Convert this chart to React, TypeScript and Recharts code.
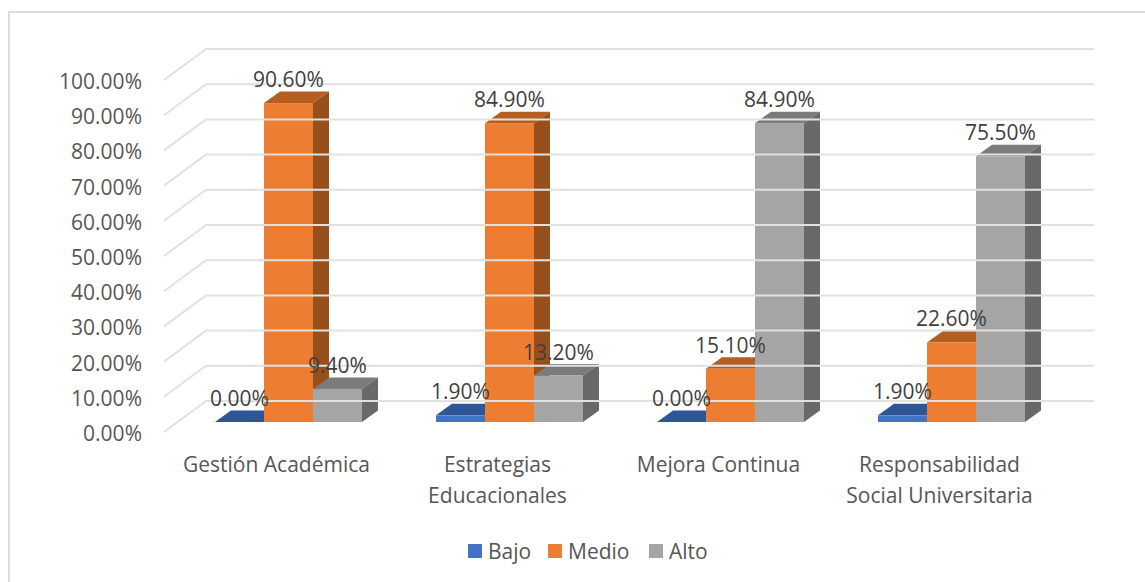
import { BarChart, Bar, XAxis, YAxis, ReferenceLine, Legend } from "recharts";

const categories = [
  ["Gestión Académica"],
  ["Estrategias", "Educacionales"],
  ["Mejora Continua"],
  ["Responsabilidad", "Social Universitaria"],
];
const bajo = [0, 1.9, 0, 1.9];
const medio = [90.6, 84.9, 15.1, 22.6];
const alto = [9.4, 13.2, 84.9, 75.5];
const yTicks = [0, 10, 20, 30, 40, 50, 60, 70, 80, 90, 100];

const FONT = '"Open Sans", sans-serif';
const AXIS_TEXT = "#565656";
const LABEL_TEXT = "#404040";

const data = categories.map((c, i) => ({
  name: c.join(" "),
  bajo: bajo[i],
  medio: medio[i],
  alto: alto[i],
}));

const colors: Record<string, { front: string; top: string; side: string }> = {
  bajo: { front: "#4472c4", top: "#2f5597", side: "#274779" },
  medio: { front: "#ed7d31", top: "#b55e22", side: "#974f1b" },
  alto: { front: "#a5a5a5", top: "#7b7b7b", side: "#696969" },
};

const DEPTH_X = 16;
const DEPTH_Y = 11.5;

// front face plus the top and right faces of a box
function Box3D(props: any) {
  const { x, y, width, height, tone } = props;
  const c = colors[tone];
  const r = x + width;
  const b = y + height;
  return (
    <g>
      <polygon
        points={`${x},${y} ${x + DEPTH_X},${y - DEPTH_Y} ${r + DEPTH_X},${y - DEPTH_Y} ${r},${y}`}
        fill={c.top}
      />
      <polygon
        points={`${r},${y} ${r + DEPTH_X},${y - DEPTH_Y} ${r + DEPTH_X},${b - DEPTH_Y} ${r},${b}`}
        fill={c.side}
      />
      <rect x={x} y={y} width={width} height={Math.max(height, 0)} fill={c.front} />
    </g>
  );
}

// back wall line with its diagonal on the left wall
function WallLine(props: any) {
  const { x1, x2, y1 } = props;
  return (
    <polyline
      points={`${x1 - 14},${y1 + 10} ${x1 + 28},${y1 - 21} ${x2 + 32},${y1 - 21}`}
      fill="none"
      stroke="#e1e1e1"
      strokeWidth={2}
    />
  );
}

function YTick({ x, y, payload }: any) {
  return (
    <text x={x} y={y + 19} textAnchor="end" fontFamily={FONT} fontSize={21} fill={AXIS_TEXT}>
      {payload.value.toFixed(2)}%
    </text>
  );
}

function XTick({ x, y, index }: any) {
  return (
    <text textAnchor="middle" fontFamily={FONT} fontSize={21} fill={AXIS_TEXT}>
      {categories[index].map((line, i) => (
        <tspan key={line} x={x - 12} y={y + 42 + i * 30.5}>
          {line}
        </tspan>
      ))}
    </text>
  );
}

// drawn as a bar shape so zero values get a label too
function ValueLabel({ x, y, width, payload, field }: any) {
  return (
    <text
      x={x + width / 2}
      y={y - 16}
      textAnchor="middle"
      fontFamily={FONT}
      fontSize={21}
      fill={LABEL_TEXT}
    >
      {Number(payload[field]).toFixed(2)}%
    </text>
  );
}

function LegendRow() {
  const items = [
    { label: "Bajo", color: colors.bajo.front, w: 80 },
    { label: "Medio", color: colors.medio.front, w: 101 },
    { label: "Alto", color: colors.alto.front, w: 70 },
  ];
  return (
    <div style={{ display: "flex", fontFamily: FONT, fontSize: 21, color: AXIS_TEXT, lineHeight: "24px" }}>
      {items.map((it) => (
        <div key={it.label} style={{ width: it.w, display: "flex", alignItems: "center" }}>
          <span style={{ width: 14, height: 14, background: it.color, marginRight: 6 }} />
          {it.label}
        </div>
      ))}
    </div>
  );
}

export default function App() {
  return (
    <div
      style={{
        position: "absolute",
        left: 0,
        top: 0,
        width: 1145,
        height: 582,
        background: "#fff",
        overflow: "hidden",
      }}
    >
      <div
        style={{
          position: "absolute",
          left: 8,
          top: 11,
          width: 1200,
          height: 620,
          border: "2px solid #dcdcdc",
          boxSizing: "border-box",
        }}
      />
      <BarChart
        width={1145}
        height={582}
        data={data}
        barSize={49}
        barGap={0}
        margin={{ top: 70, right: 83, bottom: 130, left: 118 }}
        style={{ position: "absolute", left: 0, top: 0 }}
      >
        <XAxis dataKey="name" axisLine={false} tickLine={false} interval={0} tick={<XTick />} />
        <YAxis
          width={60}
          domain={[0, 100]}
          ticks={yTicks}
          axisLine={false}
          tickLine={false}
          tick={<YTick />}
          tickMargin={30}
          interval={0}
        />
        {yTicks.map((t) => (
          <ReferenceLine key={t} y={t} shape={<WallLine />} />
        ))}
        <Bar dataKey="bajo" isAnimationActive={false} fill={colors.bajo.front} shape={<Box3D tone="bajo" />} legendType="none" />
        <Bar dataKey="medio" isAnimationActive={false} fill={colors.medio.front} shape={<Box3D tone="medio" />} legendType="none" />
        <Bar dataKey="alto" isAnimationActive={false} fill={colors.alto.front} shape={<Box3D tone="alto" />} legendType="none" />
        <Legend
          verticalAlign="middle"
          content={<LegendRow />}
          wrapperStyle={{ left: 468, top: 539, width: 260 }}
        />
      </BarChart>
      {/* second chart on the same scales, so value labels sit above every box */}
      <BarChart
        width={1145}
        height={582}
        data={data}
        barSize={49}
        barGap={0}
        margin={{ top: 70, right: 83, bottom: 160, left: 178 }}
        style={{ position: "absolute", left: 0, top: 0 }}
      >
        <XAxis dataKey="name" hide />
        <YAxis domain={[0, 100]} hide />
        {["bajo", "medio", "alto"].map((k) => (
          <Bar
            key={k}
            dataKey={k}
            fill="none"
            isAnimationActive={false}
            legendType="none"
            shape={<ValueLabel field={k} />}
          />
        ))}
      </BarChart>
    </div>
  );
}
